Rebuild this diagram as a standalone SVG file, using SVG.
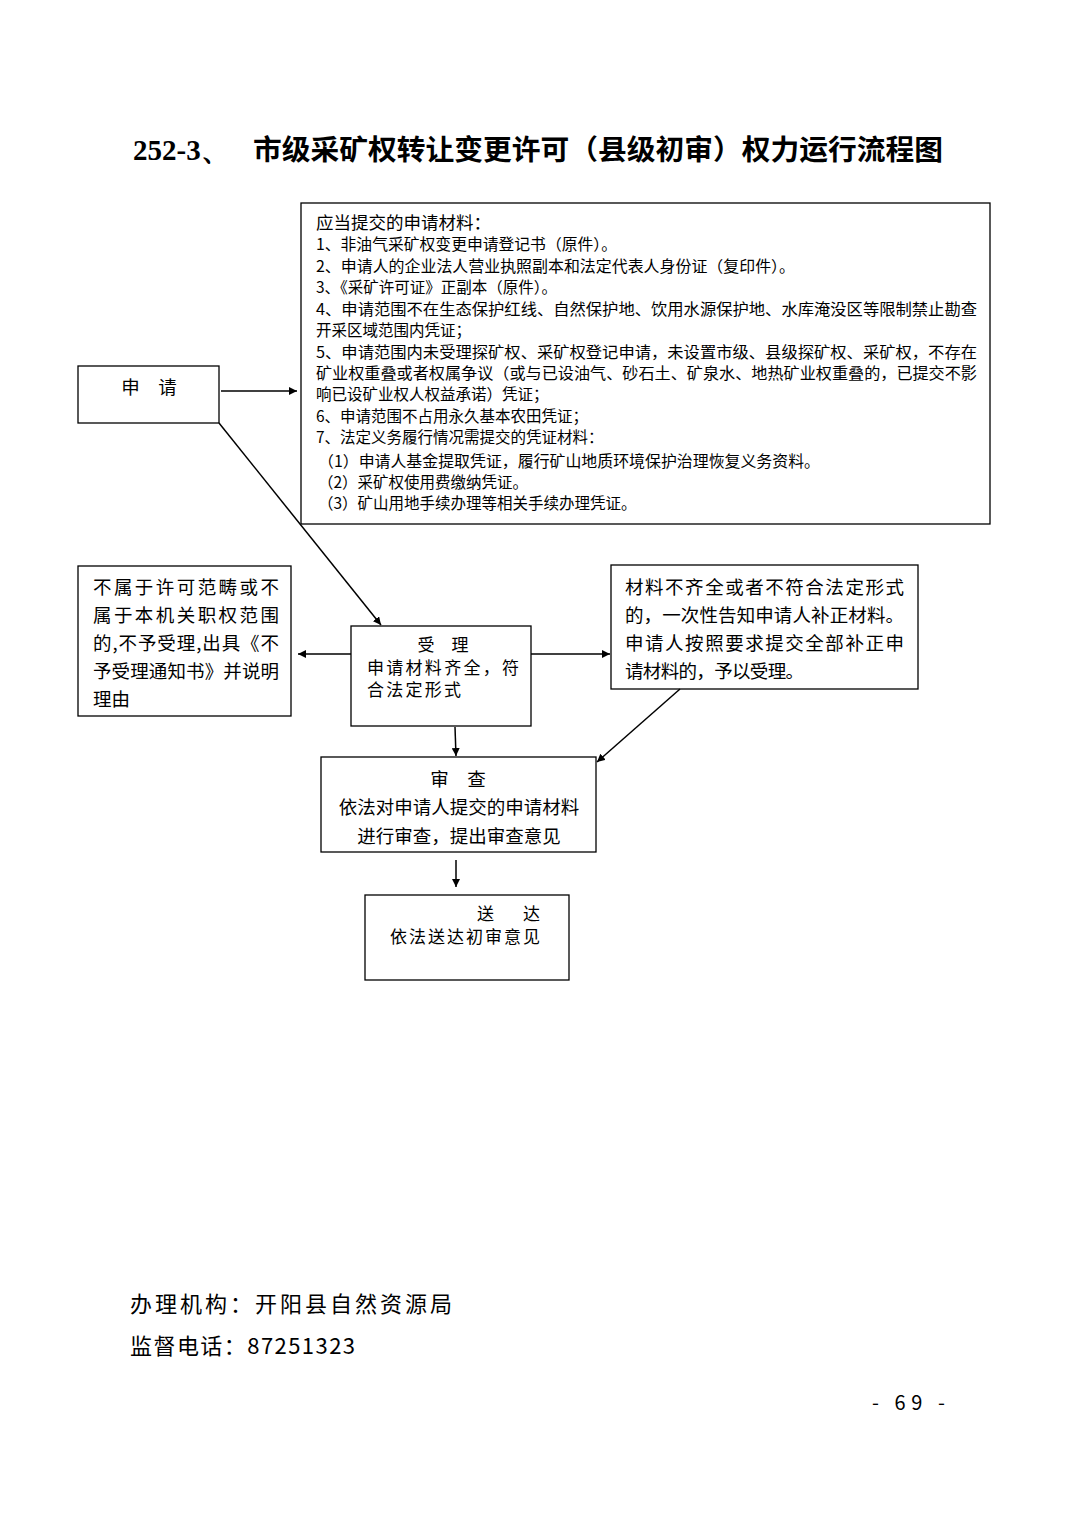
<svg xmlns="http://www.w3.org/2000/svg" width="1074" height="1520" viewBox="0 0 1074 1520">
<style>
.bx{fill:#fff;stroke:#000;stroke-width:1.3}
.t{font-family:"Noto Sans CJK SC","Liberation Sans",sans-serif;fill:#000}
.m{font-size:15.5px}
.n{font-size:18.5px}
.s{font-size:17px}
.c{text-anchor:middle}
.ln{stroke:#000;stroke-width:1.5;fill:none}
</style>
<defs>
<marker id="ah" viewBox="0 0 10 10" refX="10" refY="5" markerWidth="8" markerHeight="8" markerUnits="userSpaceOnUse" orient="auto">
<path d="M0,0 L10,5 L0,10 z" fill="#000"/>
</marker>
</defs>
<rect width="1074" height="1520" fill="#fff"/>
<g id="title">
<text x="133" y="160" font-family="Liberation Serif,serif" font-weight="bold" font-size="29">252-3、</text>
<text x="253" y="160" font-family="Noto Sans CJK SC,serif" font-weight="bold" font-size="28" textLength="690" lengthAdjust="spacingAndGlyphs">市级采矿权转让变更许可（县级初审）权力运行流程图</text>
</g>

<g id="materials">
<rect class="bx" x="301" y="203" width="689" height="321"/>
<text class="t" x="316" y="229" font-size="17.5">应当提交的申请材料：</text>
<text class="t m" x="316" y="250" textLength="301" lengthAdjust="spacingAndGlyphs">1、非油气采矿权变更申请登记书（原件）。</text>
<text class="t m" x="316" y="272" textLength="479" lengthAdjust="spacingAndGlyphs">2、申请人的企业法人营业执照副本和法定代表人身份证（复印件）。</text>
<text class="t m" x="316" y="293">3、《采矿许可证》正副本（原件）。</text>
<text class="t m" x="316" y="315" textLength="661" lengthAdjust="spacingAndGlyphs">4、申请范围不在生态保护红线、自然保护地、饮用水源保护地、水库淹没区等限制禁止勘查</text>
<text class="t m" x="316" y="336">开采区域范围内凭证；</text>
<text class="t m" x="316" y="358" textLength="661" lengthAdjust="spacingAndGlyphs">5、申请范围内未受理探矿权、采矿权登记申请，未设置市级、县级探矿权、采矿权，不存在</text>
<text class="t m" x="316" y="379" textLength="661" lengthAdjust="spacingAndGlyphs">矿业权重叠或者权属争议（或与已设油气、砂石土、矿泉水、地热矿业权重叠的，已提交不影</text>
<text class="t m" x="316" y="400">响已设矿业权人权益承诺）凭证；</text>
<text class="t m" x="316" y="422">6、申请范围不占用永久基本农田凭证；</text>
<text class="t m" x="316" y="443">7、法定义务履行情况需提交的凭证材料：</text>
<text class="t m" x="318" y="467" textLength="502" lengthAdjust="spacingAndGlyphs">（1）申请人基金提取凭证，履行矿山地质环境保护治理恢复义务资料。</text>
<text class="t m" x="318" y="488">（2）采矿权使用费缴纳凭证。</text>
<text class="t m" x="318" y="509">（3）矿山用地手续办理等相关手续办理凭证。</text>
</g>

<g id="apply">
<rect class="bx" x="78" y="366" width="141" height="57"/>
<text class="t n c" x="149" y="394">申　请</text>
</g>

<g id="reject">
<rect class="bx" x="78" y="566" width="213" height="150"/>
<text class="t n" x="93" y="594" textLength="186" lengthAdjust="spacing">不属于许可范畴或不</text>
<text class="t n" x="93" y="622" textLength="186" lengthAdjust="spacing">属于本机关职权范围</text>
<text class="t n" x="93" y="650" textLength="186" lengthAdjust="spacing">的,不予受理,出具《不</text>
<text class="t n" x="93" y="678" textLength="186" lengthAdjust="spacing">予受理通知书》并说明</text>
<text class="t n" x="93" y="706">理由</text>
</g>

<g id="accept">
<rect class="bx" x="351" y="626" width="180" height="100"/>
<text class="t s c" x="443" y="651">受　理</text>
<text class="t s" x="367" y="674" textLength="152" lengthAdjust="spacing">申请材料齐全，符</text>
<text class="t s" x="367" y="696" textLength="94" lengthAdjust="spacing">合法定形式</text>
</g>

<g id="supplement">
<rect class="bx" x="611" y="565" width="307" height="124"/>
<text class="t n" x="625" y="594" textLength="279" lengthAdjust="spacing">材料不齐全或者不符合法定形式</text>
<text class="t n" x="625" y="622" textLength="279" lengthAdjust="spacing">的，一次性告知申请人补正材料。</text>
<text class="t n" x="625" y="650" textLength="279" lengthAdjust="spacing">申请人按照要求提交全部补正申</text>
<text class="t n" x="625" y="678" textLength="179" lengthAdjust="spacing">请材料的，予以受理。</text>
</g>

<g id="review">
<rect class="bx" x="321" y="757" width="275" height="95"/>
<text class="t n c" x="458" y="786">审　查</text>
<text class="t n c" x="459" y="814">依法对申请人提交的申请材料</text>
<text class="t n c" x="459" y="843">进行审查，提出审查意见</text>
</g>

<g id="deliver">
<rect class="bx" x="365" y="895" width="204" height="85"/>
<text class="t s" x="477" y="920" textLength="63" lengthAdjust="spacing">送　　达</text>
<text class="t s" x="390" y="943" textLength="150" lengthAdjust="spacing">依法送达初审意见</text>
</g>

<g id="connectors">
<line class="ln" x1="221" y1="391" x2="297" y2="391" marker-end="url(#ah)"/>
<line class="ln" x1="219" y1="423" x2="381" y2="625" marker-end="url(#ah)"/>
<line class="ln" x1="351" y1="654" x2="298" y2="654" marker-end="url(#ah)"/>
<line class="ln" x1="531" y1="654" x2="610" y2="654" marker-end="url(#ah)"/>
<line class="ln" x1="680" y1="689" x2="597" y2="762" marker-end="url(#ah)"/>
<line class="ln" x1="455" y1="727" x2="456" y2="756" marker-end="url(#ah)"/>
<line class="ln" x1="456" y1="860" x2="456" y2="887" marker-end="url(#ah)"/>
</g>

<g id="footer">
<text class="t" x="130" y="1312" font-size="22" textLength="322" lengthAdjust="spacing">办理机构：开阳县自然资源局</text>
<text class="t" x="130" y="1354" font-size="22" textLength="225" lengthAdjust="spacing">监督电话：87251323</text>
<text class="t" x="872" y="1410" font-size="20" textLength="73" lengthAdjust="spacing">- 69 -</text>
</g>
</svg>
